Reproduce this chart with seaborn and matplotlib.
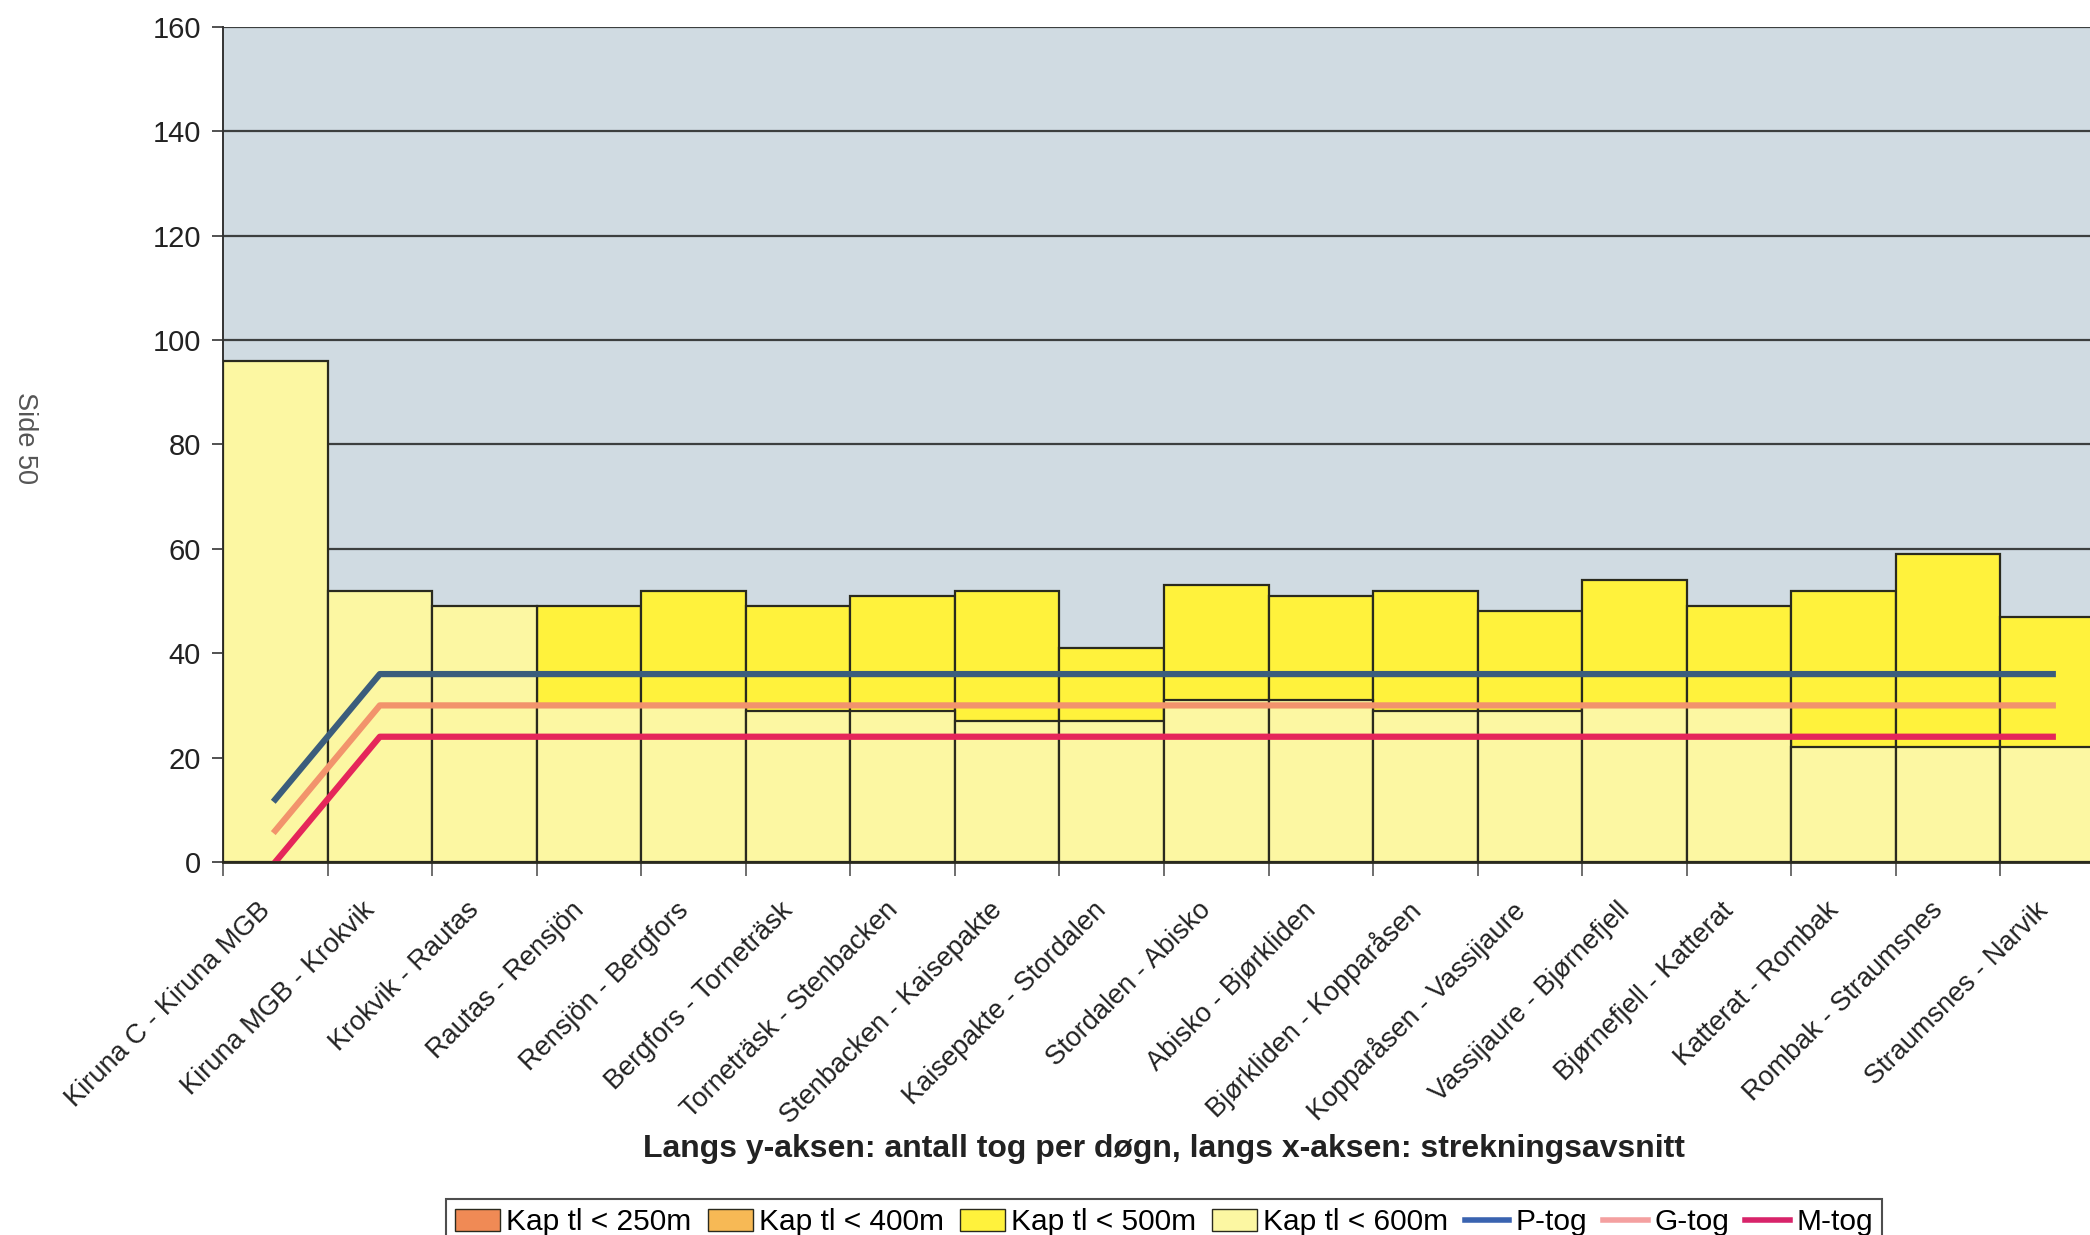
import matplotlib
matplotlib.use("Agg")
import matplotlib.pyplot as plt
import matplotlib.transforms as mtransforms
from matplotlib.patches import Patch
from matplotlib.lines import Line2D
import seaborn as sns
import numpy as np

# Strekningsavsnitt (x-aksen)
strekninger = [
    "Kiruna C - Kiruna MGB", "Kiruna MGB - Krokvik", "Krokvik - Rautas",
    "Rautas - Rensjön", "Rensjön - Bergfors", "Bergfors - Torneträsk",
    "Torneträsk - Stenbacken", "Stenbacken - Kaisepakte", "Kaisepakte - Stordalen",
    "Stordalen - Abisko", "Abisko - Bjørkliden", "Bjørkliden - Kopparåsen",
    "Kopparåsen - Vassijaure", "Vassijaure - Bjørnefjell", "Bjørnefjell - Katterat",
    "Katterat - Rombak", "Rombak - Straumsnes", "Straumsnes - Narvik",
]

# Kapasitet (antall tog per døgn) etter togsettlengde
kap_500 = [0, 0, 0, 49, 52, 49, 51, 52, 41, 53, 51, 52, 48, 54, 49, 52, 59, 47]
kap_600 = [96, 52, 49, 30, 30, 29, 29, 27, 27, 31, 31, 29, 29, 30, 30, 22, 22, 22]

# Trafikk per togtype
p_tog = [12] + [36] * 17
g_tog = [6] + [30] * 17
m_tog = [0] + [24] * 17

y_ticks = [0, 20, 40, 60, 80, 100, 120, 140, 160]

plt.rcParams['font.family'] = ['Liberation Sans', 'DejaVu Sans']

fig = plt.figure(figsize=(20.9, 12.35), dpi=100)
ax = fig.add_axes([0.1067, 0.302, 0.9005, 0.6764])
ax.set_facecolor('#d0dbe2')

kant = '#2a2a1e'
sns.barplot(x=strekninger, y=kap_500, color='#fff23c', width=1.0, saturation=1,
            edgecolor=kant, linewidth=1.6, ax=ax, zorder=2)
sns.barplot(x=strekninger, y=kap_600, color='#fcf7a2', width=1.0, saturation=1,
            edgecolor=kant, linewidth=1.6, ax=ax, zorder=3)

pos = np.arange(len(strekninger))
sns.lineplot(x=pos, y=p_tog, color='#3b5d7c', linewidth=4.5, ax=ax, zorder=5)
sns.lineplot(x=pos, y=g_tog, color='#f2936c', linewidth=4.5, ax=ax, zorder=5)
sns.lineplot(x=pos, y=m_tog, color='#e5265a', linewidth=4.5, ax=ax, zorder=5)

ax.set_xlim(-0.5, len(strekninger) - 0.5)
ax.set_ylim(0, 160)
ax.set_yticks(y_ticks)
ax.set_yticklabels([str(v) for v in y_ticks], fontsize=21, color='#222222')
ax.yaxis.grid(True, color='#3c3f3f', linewidth=1.6, zorder=1)
ax.xaxis.grid(False)
ax.set_axisbelow(True)
ax.tick_params(axis='y', length=8, width=1.2, color='#333333', pad=8)

# Etiketter midt på søylene, tick-merker mellom søylene
ax.set_xticks(pos)
ax.set_xticklabels(strekninger, rotation=45, ha='right', va='center',
                   rotation_mode='anchor', fontsize=19.5, color='#222222')
ax.tick_params(axis='x', which='major', length=0, pad=32)
forskyv = mtransforms.ScaledTranslation(-0.09, 0, fig.dpi_scale_trans)
for lbl in ax.get_xticklabels():
    lbl.set_transform(lbl.get_transform() + forskyv)
ax.set_xticks(np.arange(len(strekninger) + 1) - 0.5, minor=True)
ax.tick_params(axis='x', which='minor', length=10, width=1.2, color='#555555')

for s in ['top', 'right']:
    ax.spines[s].set_visible(False)
ax.spines['left'].set_color('#333333')
ax.spines['left'].set_linewidth(1.4)
ax.spines['bottom'].set_color('#2a2a1e')
ax.spines['bottom'].set_linewidth(2)
ax.spines['bottom'].set_zorder(6)

ax.set_ylabel('')
ax.set_xlabel('Langs y-aksen: antall tog per døgn, langs x-aksen: strekningsavsnitt',
              fontsize=23, fontweight='bold', color='#222222')
ax.xaxis.set_label_coords(0.5, -0.325)

fig.text(0.012, 0.645, 'Side 50', rotation=270, fontsize=19.5, color='#555555',
         ha='center', va='center')

handles = [
    Patch(facecolor='#f08a55', edgecolor=kant, label='Kap tl < 250m'),
    Patch(facecolor='#f7b955', edgecolor=kant, label='Kap tl < 400m'),
    Patch(facecolor='#fff23c', edgecolor=kant, label='Kap tl < 500m'),
    Patch(facecolor='#fcf7a2', edgecolor=kant, label='Kap tl < 600m'),
    Line2D([0], [0], color='#3a63b0', linewidth=4, label='P-tog'),
    Line2D([0], [0], color='#f4a0a0', linewidth=4, label='G-tog'),
    Line2D([0], [0], color='#d8246a', linewidth=4, label='M-tog'),
]
leg = fig.legend(handles=handles, loc='upper center', bbox_to_anchor=(0.557, 0.041),
                 ncol=7, fontsize=21.5, frameon=True, fancybox=False,
                 handlelength=1.5, handleheight=0.75, handletextpad=0.2,
                 columnspacing=0.55, borderpad=0.3)
leg.get_frame().set_edgecolor('#222222')
leg.get_frame().set_linewidth(1.5)

fig.savefig('out.png', dpi=100)
